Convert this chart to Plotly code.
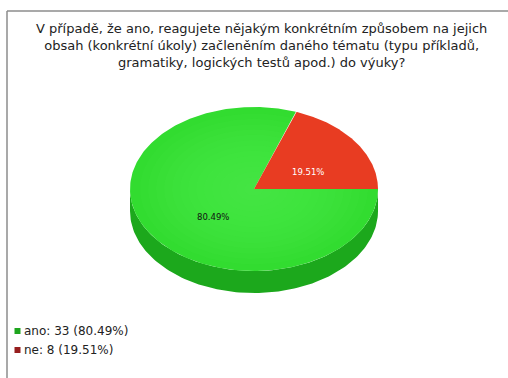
import numpy as np
import plotly.graph_objects as go

# Survey answers
categories = ["ano", "ne"]
counts = [33, 8]
percent_labels = ["80.49%", "19.51%"]

title_lines = [
    "V případě, že ano, reagujete nějakým konkrétním způsobem na jejich",
    "obsah (konkrétní úkoly) začleněním daného tématu (typu příkladů,",
    "gramatiky, logických testů apod.) do výuky?",
]

top_colors = ["rgb(50,220,48)", "rgb(232,60,34)"]
side_colors = ["rgb(28,168,28)", "rgb(170,40,25)"]
legend_colors = ["rgb(30,165,30)", "rgb(150,30,30)"]

FONT = "DejaVu Sans, Verdana, sans-serif"
W, H = 508, 378
cx, cy = 254, 189        # pie centre (pixels)
rx, ry = 124, 82         # ellipse radii
depth = 22               # thickness of the pie edge

total = sum(counts)
fracs = [c / total for c in counts]

fig = go.Figure()


def pt(t_deg, dy=0.0, scale=1.0):
    t = np.radians(t_deg)
    return cx + scale * rx * np.cos(t), cy - scale * ry * np.sin(t) + dy


# slices run clockwise from 3 o'clock
starts, ends = [], []
a = 0.0
for f in fracs:
    starts.append(a)
    a -= f * 360.0
    ends.append(a)

# side walls: only the front half of the rim is visible
for i in range(len(counts)):
    s, e = starts[i], ends[i]
    for off in (0.0, -360.0):
        lo, hi = max(e, off - 180.0), min(s, off)
        if hi > lo:
            ts = np.linspace(hi, lo, 120)
            xs_top, ys_top = pt(ts)
            xs_bot, ys_bot = pt(ts[::-1], dy=depth)
            fig.add_trace(go.Scatter(
                x=np.concatenate([xs_top, xs_bot]),
                y=np.concatenate([ys_top, ys_bot]),
                mode="lines", fill="toself", fillcolor=side_colors[i],
                line=dict(width=0), hoverinfo="skip", showlegend=False))

# top faces
for i in range(len(counts)):
    ts = np.linspace(starts[i], ends[i], 240)
    xs, ys = pt(ts)
    xs = np.concatenate([[cx], xs, [cx]])
    ys = np.concatenate([[cy], ys, [cy]])
    fig.add_trace(go.Scatter(
        x=xs, y=ys, mode="lines", fill="toself", fillcolor=top_colors[i],
        line=dict(width=0), hoverinfo="skip", showlegend=False))

# soft highlight towards the centre of the green face
for sc in np.linspace(0.92, 0.08, 14):
    ts = np.linspace(starts[0], ends[0], 200)
    xs, ys = pt(ts, scale=sc)
    xs = np.concatenate([[cx], xs, [cx]])
    ys = np.concatenate([[cy], ys, [cy]])
    fig.add_trace(go.Scatter(
        x=xs, y=ys, mode="lines", fill="toself",
        fillcolor="rgba(120,255,100,0.035)",
        line=dict(width=0), hoverinfo="skip", showlegend=False))

# slice value labels
label_pos = [(213, 217), (308, 172)]
label_colors = ["#111111", "#ffffff"]
for i in range(len(counts)):
    fig.add_annotation(x=label_pos[i][0], y=label_pos[i][1], text=percent_labels[i],
                       showarrow=False, xref="x", yref="y",
                       font=dict(family=FONT, size=8.5, color=label_colors[i]))

# title
fig.add_annotation(x=261, y=45, xref="x", yref="y", text="<br>".join(title_lines),
                   showarrow=False, yanchor="middle", xanchor="center", align="center",
                   font=dict(family=FONT, size=13, color="#222222"))

# legend
leg_y = [331, 350]
fig.add_trace(go.Scatter(
    x=[17.5] * len(categories), y=leg_y, mode="markers",
    marker=dict(symbol="square", size=6, color=legend_colors),
    hoverinfo="skip", showlegend=False))
for i, cat in enumerate(categories):
    fig.add_annotation(x=22, y=leg_y[i], xref="x", yref="y",
                       text=f"{cat}: {counts[i]} ({percent_labels[i]})",
                       showarrow=False, xanchor="left", yanchor="middle",
                       font=dict(family=FONT, size=12, color="#222222"))

# frame
fig.add_shape(type="line", x0=7, x1=7, y0=11, y1=H, xref="x", yref="y",
              line=dict(color="#8c8c8c", width=1.5))
fig.add_shape(type="line", x0=7, x1=W, y0=11, y1=11, xref="x", yref="y",
              line=dict(color="#8c8c8c", width=1.5))

fig.update_layout(
    width=W, height=H, margin=dict(l=0, r=0, t=0, b=0),
    paper_bgcolor="white", plot_bgcolor="white",
    xaxis=dict(range=[0, W], visible=False, fixedrange=True),
    yaxis=dict(range=[H, 0], visible=False, fixedrange=True),
    showlegend=False,
)

fig.write_html("out.html")
